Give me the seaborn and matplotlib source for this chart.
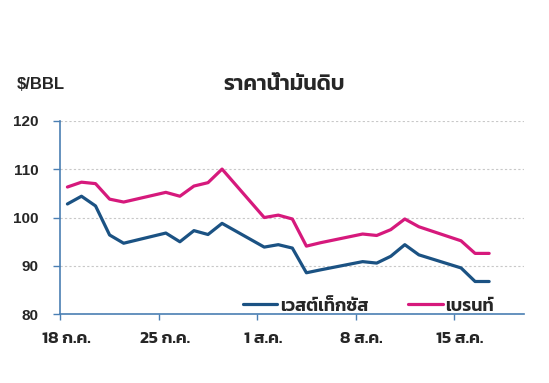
import numpy as np
import pandas as pd
import matplotlib
matplotlib.use('Agg')
from matplotlib import pyplot as plt
import seaborn as sns

# ข้อมูลราคาน้ำมันดิบ (อ่านจากภาพ)
dates = ['2022-07-18', '2022-07-19', '2022-07-20', '2022-07-21', '2022-07-22',
         '2022-07-25', '2022-07-26', '2022-07-27', '2022-07-28', '2022-07-29',
         '2022-08-01', '2022-08-02', '2022-08-03', '2022-08-04', '2022-08-05',
         '2022-08-08', '2022-08-09', '2022-08-10', '2022-08-11', '2022-08-12',
         '2022-08-15', '2022-08-16', '2022-08-17']
wti = [102.8, 104.4, 102.4, 96.4, 94.7,
       96.8, 95.0, 97.3, 96.5, 98.8,
       93.9, 94.4, 93.7, 88.6, 89.2,
       90.9, 90.6, 92.0, 94.4, 92.3,
       89.6, 86.8, 86.8]
brent = [106.3, 107.3, 107.0, 103.8, 103.2,
         105.2, 104.4, 106.5, 107.2, 110.0,
         100.0, 100.5, 99.7, 94.1, 94.8,
         96.6, 96.3, 97.5, 99.7, 98.1,
         95.2, 92.6, 92.6]
series_names = ['เวสต์เท็กซัส', 'เบรนท์']
tick_dates = ['2022-07-18', '2022-07-25', '2022-08-01', '2022-08-08', '2022-08-15']
tick_labels = ['18 ก.ค.', '25 ก.ค.', '1 ส.ค.', '8 ส.ค.', '15 ส.ค.']
title = 'ราคาน้ำมันดิบ'
unit = '$/BBL'

palette = {'เวสต์เท็กซัส': '#1b5283', 'เบรนท์': '#d6197c'}
axis_color = '#4a7fb3'
thai_font = ['Kanit', 'DejaVu Sans']
num_font = ['Liberation Sans', 'DejaVu Sans']

sns.set_style('white')
plt.rcParams['font.family'] = thai_font

df = pd.DataFrame({'date': pd.to_datetime(dates) + pd.Timedelta(hours=12),
                   series_names[0]: wti, series_names[1]: brent})
long_df = df.melt(id_vars='date', var_name='series', value_name='price')

fig = plt.figure(figsize=(5.49, 3.83), dpi=100)
ax = fig.add_axes([0.110, 0.179, 0.845, 0.506])
sns.lineplot(data=long_df, x='date', y='price', hue='series', palette=palette,
             hue_order=series_names, linewidth=2.3, ax=ax)

ax.set_xlim(pd.Timestamp('2022-07-18'), pd.Timestamp('2022-08-20'))
ax.set_ylim(80, 120)
ax.set_yticks([80, 90, 100, 110, 120])
ax.yaxis.grid(True, color='#c8c8c8', linestyle=(0, (2, 2)), linewidth=0.8)
ax.xaxis.grid(False)

# ขีดแกน x ที่ต้นสัปดาห์ ป้ายเลื่อนไปกลางวัน
ax.set_xticks(pd.to_datetime(tick_dates))
ax.set_xticklabels([])
ax.set_xticks(pd.to_datetime(tick_dates) + pd.Timedelta(hours=10), minor=True)
ax.set_xticklabels(tick_labels, minor=True, fontsize=12.5, fontweight='semibold')
ax.tick_params(axis='x', which='major', direction='out', length=4, width=1, color=axis_color, bottom=True)
ax.tick_params(axis='x', which='minor', length=0, pad=13)
ax.tick_params(axis='y', direction='out', length=5, width=1, color=axis_color, left=True,
               labelsize=11, pad=11)
for lab in ax.get_yticklabels():
    lab.set_fontweight('bold')
    lab.set_family(num_font)

for s in ['top', 'right']:
    ax.spines[s].set_visible(False)
for s in ['left', 'bottom']:
    ax.spines[s].set_color(axis_color)
    ax.spines[s].set_linewidth(1.2)

ax.set_xlabel('')
ax.set_ylabel('')
ax.legend(loc='lower right', bbox_to_anchor=(0.97, -0.085), ncol=2, frameon=False,
          handlelength=1.9, columnspacing=2.2, handletextpad=0.15,
          prop={'size': 13, 'weight': 'semibold'})

fig.text(0.518, 0.78, title, ha='center', va='center', fontsize=15.5, fontweight='semibold')
fig.text(0.03, 0.78, unit, ha='left', va='center', fontsize=12, fontweight='bold', family=num_font)

plt.savefig('out.png', dpi=100)
